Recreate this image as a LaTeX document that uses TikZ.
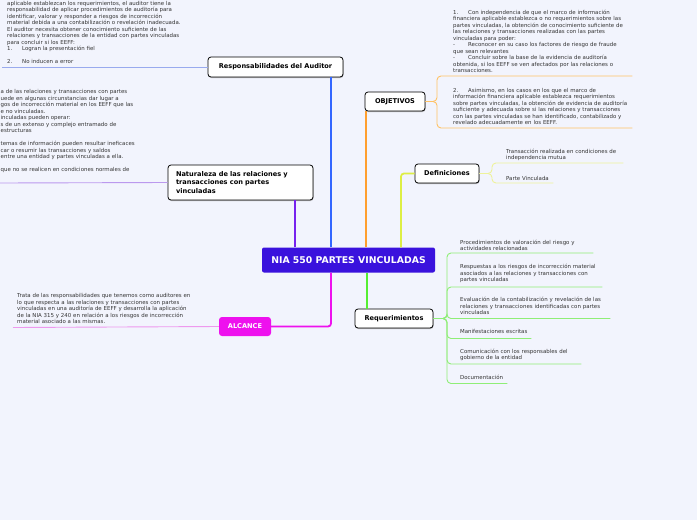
\documentclass[tikz,border=0pt]{standalone}
\usepackage{fontspec}
\setmainfont{DejaVu Sans}
\usetikzlibrary{shadows}
\definecolor{paper}{HTML}{F2F4FD}
\definecolor{indigo}{HTML}{3A12DD}
\definecolor{inkgray}{HTML}{333333}
\definecolor{respblue}{HTML}{3366FF}
\definecolor{resplight}{HTML}{99AAEE}
\definecolor{objorange}{HTML}{FF9F2E}
\definecolor{objlight}{HTML}{FFC266}
\definecolor{deflime}{HTML}{DDEE44}
\definecolor{deflight}{HTML}{EEF29A}
\definecolor{reqgreen}{HTML}{55EE33}
\definecolor{reqlight}{HTML}{8FEE77}
\definecolor{natpurple}{HTML}{7722EE}
\definecolor{natlight}{HTML}{BB99EE}
\definecolor{alcmagenta}{HTML}{EE11EE}
\definecolor{alclight}{HTML}{EE99EE}

\begin{document}
\begin{tikzpicture}[x=1pt, y=-1pt,
  topic/.style={draw=black, line width=0.8pt, fill=white, rounded corners=3pt, inner sep=0pt,
    font=\fontsize{6.6}{8.5}\selectfont\bfseries, text=black,
    drop shadow={shadow xshift=0.5pt, shadow yshift=-1pt, fill=black!45, opacity=0.6}},
  leaf/.style={anchor=south west, inner xsep=0pt, inner ysep=3pt, align=left,
    font=\fontsize{5.45}{6.5}\selectfont, text=inkgray},
  trunk/.style={line width=1.8pt},
  twig/.style={line width=0.9pt, rounded corners=4pt}
]

% Page
\useasboundingbox (0,0) rectangle (697,520);
\fill[paper] (0,0) rectangle (697,520);
\clip (0,0) rectangle (697,520);

% Trunk positions
\coordinate (tnat) at (295,0);
\coordinate (tresp) at (331,0);
\coordinate (talc) at (331,0);
\coordinate (tobj) at (366,0);
\coordinate (treq) at (367,0);
\coordinate (tdef) at (401,0);

% Forks
\coordinate (objfork) at (437,101.5);
\coordinate (deffork) at (492,173.5);
\coordinate (reqfork) at (447,318.5);

% Main topics
\node[fill=indigo, text=white, rounded corners=2pt, minimum width=173pt, minimum height=25pt,
  font=\fontsize{9.3}{11}\selectfont\bfseries] (nia) at (348.5,260) {NIA 550 PARTES VINCULADAS};

\node[topic, minimum width=135pt, minimum height=20pt] (resp) at (275.5,67) {Responsabilidades del Auditor};
\node[topic, minimum width=60pt, minimum height=19pt] (obj) at (395,101.5) {OBJETIVOS};
\node[topic, minimum width=64pt, minimum height=19pt] (def) at (447,173.5) {Definiciones};
\node[topic, minimum width=78pt, minimum height=19pt] (req) at (394,318.5) {Requerimientos};
\node[topic, minimum width=145pt, minimum height=35pt, text width=129pt, align=left] (nat) at (240.5,182.5)
  {Naturaleza de las relaciones y\\transacciones con partes\\vinculadas};
\node[fill=alcmagenta, text=white, rounded corners=3pt, minimum width=52pt, minimum height=19pt,
  font=\fontsize{6.6}{8.5}\selectfont\bfseries] (alc) at (245,326.5) {ALCANCE};

% Notes on the left
\node[leaf, inner xsep=5pt, text width=195pt] (respnote) at (2,67) {%
aplicable establezcan los requerimientos, el auditor tiene la\\
responsabilidad de aplicar procedimientos de auditoría para\\
identificar, valorar y responder a riesgos de incorrección\\
material debida a una contabilización o revelación inadecuada.\\
El auditor necesita obtener conocimiento suficiente de las\\
relaciones y transacciones de la entidad con partes vinculadas\\
para concluir si los EEFF:\\
\makebox[15pt][l]{1.}Logran la presentación fiel\\[6.5pt]
\makebox[15pt][l]{2.}No inducen a error};

\node[leaf, inner xsep=0.5pt, inner ysep=10pt, text width=165pt] (natnote) at (0,183) {%
a de las relaciones y transacciones con partes\\
uede en algunas circunstancias dar lugar a\\
gos de incorrección material en los EEFF que las\\
e no vinculadas.\\
inculadas pueden operar:\\
s de un extenso y complejo entramado de\\
estructuras\\[6.5pt]
temas de información pueden resultar ineficaces\\
car o resumir las transacciones y saldos\\
entre una entidad y partes vinculadas a ella.\\[6.5pt]
que no se realicen en condiciones normales de};

\node[leaf, inner xsep=4pt, inner ysep=3.5pt, text width=185pt] (alcnote) at (13,327.5) {%
Trata de las responsabilidades que tenemos como auditores en\\
lo que respecta a las relaciones y transacciones con partes\\
vinculadas en una auditoría de EEFF y desarrolla la aplicación\\
de la NIA 315 y 240 en relación a los riesgos de incorrección\\
material asociado a las mismas.};

% Notes on the right
\node[leaf, text width=179pt] (ob1) at (453,76) {%
\makebox[15pt][l]{1.}Con independencia de que el marco de información\\
financiera aplicable establezca o no requerimientos sobre las\\
partes vinculadas, la obtención de conocimiento suficiente de\\
las relaciones y transacciones realizadas con las partes\\
vinculadas para poder:\\
\makebox[15pt][l]{-}Reconocer en su caso los factores de riesgo de fraude\\
que sean relevantes\\
\makebox[15pt][l]{-}Concluir sobre la base de la evidencia de auditoría\\
obtenida, si los EEFF se ven afectados por las relaciones o\\
transacciones.};
\node[leaf, text width=179pt] (ob2) at (453,128) {%
\makebox[15pt][l]{2.}Asimismo, en los casos en los que el marco de\\
información financiera aplicable establezca requerimientos\\
sobre partes vinculadas, la obtención de evidencia de auditoría\\
suficiente y adecuada sobre si las relaciones y transacciones\\
con las partes vinculadas se han identificado, contabilizado y\\
revelado adecuadamente en los EEFF.};

\node[leaf, inner ysep=2pt, text width=117pt] (df1) at (506,163) {Transacción realizada en condiciones de\\independencia mutua};
\node[leaf, inner ysep=2pt, text width=47pt] (df2) at (506,183) {Parte Vinculada};

\node[leaf, inner ysep=2pt, text width=133pt] (rq1) at (460,253) {Procedimientos de valoración del riesgo y\\actividades relacionadas};
\node[leaf, inner ysep=4pt, text width=142pt] (rq2) at (460,287) {Respuestas a los riesgos de incorrección material\\asociados a las relaciones y transacciones con\\partes vinculadas};
\node[leaf, inner ysep=3.5pt, text width=150pt] (rq3) at (460,318.5) {Evaluación de la contabilización y revelación de las\\relaciones y transacciones identificadas con partes\\vinculadas};
\node[leaf, inner ysep=4.5pt, text width=71pt] (rq4) at (460,338.5) {Manifestaciones escritas};
\node[leaf, text width=121pt] (rq5) at (460,364) {Comunicación con los responsables del\\gobierno de la entidad};
\node[leaf, inner ysep=3.5pt, text width=47pt] (rq6) at (460,383.5) {Documentación};

% Trunks
\draw[trunk, respblue] (nia.north -| tresp) -- (resp.south -| tresp);
\draw[trunk, objorange] (nia.north -| tobj) -- (obj.south -| tobj);
\draw[trunk, deflime, rounded corners=3pt] (nia.north -| tdef) |- (def.west);
\draw[trunk, natpurple] (nia.north -| tnat) -- (nat.south -| tnat);
\draw[trunk, alcmagenta, rounded corners=3pt] (nia.south -| talc) |- (alc.east);
\draw[trunk, reqgreen] (nia.south -| treq) -- (req.north -| treq);

% Twigs on the left
\draw[twig, resplight] (resp.west) -- (respnote.south west);
\draw[twig, natlight] (nat.west) -- (natnote.south west);
\draw[twig, alclight] (alc.west) -- (alcnote.south west);

% Twigs on the right
\foreach \n in {ob1, ob2} {
  \draw[twig, objlight] (obj.east) -- (objfork) |- (\n.south east);
}
\foreach \n in {df1, df2} {
  \draw[twig, deflight] (def.east) -- (deffork) |- (\n.south east);
}
\foreach \n in {rq1, rq2, rq3, rq4, rq5, rq6} {
  \draw[twig, reqlight] (req.east) -- (reqfork) |- (\n.south east);
}

\end{tikzpicture}
\end{document}
